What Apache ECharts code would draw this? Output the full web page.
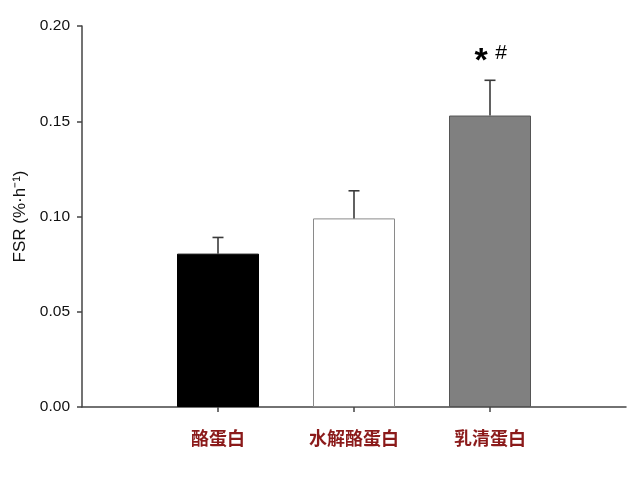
<!DOCTYPE html>
<html lang="zh">
<head>
  <meta charset="UTF-8">
  <title>FSR</title>
  <script src="https://cdn.jsdelivr.net/npm/echarts@6/dist/echarts.min.js"></script>
  <style>
    html, body { margin: 0; padding: 0; background: #fff; }
    #chart { width: 640px; height: 484px; }
  </style>
</head>
<body>
<div id="chart"></div>
<script>
  // x slots: empty slot at each end so the groups sit at 1..3 of 0..4
  var categories = ['', '酪蛋白', '水解酪蛋白', '乳清蛋白', ''];
  var groupIndex = [1, 2, 3];
  var fsrMean = [0.0805, 0.099, 0.153];
  var fsrUpper = [0.089, 0.1135, 0.1715]; // top of error bar
  var marks = ['', '', '*#'];
  var barColors = ['#000000', '#ffffff', '#808080'];
  var barBorders = ['#000000', '#8a8a8a', '#555555'];
  var yTicks = [0, 0.05, 0.10, 0.15, 0.20];

  var barData = groupIndex.map(function (g, i) {
    return {
      value: [g, fsrMean[i]],
      itemStyle: { color: barColors[i], borderColor: barBorders[i], borderWidth: 1 }
    };
  });
  var errData = groupIndex.map(function (g, i) {
    return [g, fsrMean[i], fsrUpper[i], i];
  });

  function renderErr(params, api) {
    var base = api.coord([api.value(0), api.value(1)]);
    var top = api.coord([api.value(0), api.value(2)]);
    var k = api.value(3);
    var line = { stroke: '#3a3a3a', lineWidth: 1.6 };
    var kids = [
      { type: 'line', shape: { x1: base[0], y1: base[1], x2: top[0], y2: top[1] }, style: line },
      { type: 'line', shape: { x1: top[0] - 5.5, y1: top[1], x2: top[0] + 5.5, y2: top[1] }, style: line }
    ];
    if (marks[k]) {
      kids.push({
        type: 'text',
        style: { text: marks[k].charAt(0), x: top[0] - 9, y: top[1] - 2, align: 'center', verticalAlign: 'bottom',
                 font: 'bold 34px "Liberation Sans", Arial, sans-serif', fill: '#000' }
      });
      kids.push({
        type: 'text',
        style: { text: marks[k].charAt(1), x: top[0] + 11, y: top[1] - 17, align: 'center', verticalAlign: 'bottom',
                 font: '21px "Liberation Sans", Arial, sans-serif', fill: '#000' }
      });
    }
    return { type: 'group', children: kids };
  }

  var myChart = echarts.init(document.getElementById('chart'));
  var option = {
    backgroundColor: '#ffffff',
    animation: false,
    grid: { left: 82, right: 14, top: 26, bottom: 77, containLabel: false, outerBoundsMode: 'none' },
    xAxis: {
      type: 'category',
      data: categories,
      boundaryGap: false,
      axisLine: { lineStyle: { color: '#444', width: 1.5 } },
      axisTick: {
        length: 5,
        interval: function (i) { return i > 0 && i < categories.length - 1; },
        lineStyle: { color: '#444', width: 1.5 }
      },
      axisLabel: {
        interval: 0,
        margin: 22,
        color: '#8b1a1a',
        fontSize: 18,
        fontWeight: 'bold',
        fontFamily: '"Noto Sans CJK SC", sans-serif'
      },
      splitLine: { show: false }
    },
    yAxis: {
      type: 'value',
      min: yTicks[0],
      max: yTicks[yTicks.length - 1],
      interval: 0.05,
      name: 'FSR (%·h⁻¹)',
      nameLocation: 'middle',
      nameRotate: 90,
      nameGap: 53,
      nameMoveOverlap: false,
      nameTextStyle: { fontSize: 17, color: '#111', fontFamily: '"Liberation Sans", Arial, sans-serif' },
      axisLine: { show: true, lineStyle: { color: '#444', width: 1.5 } },
      axisTick: { show: true, length: 5, lineStyle: { color: '#444', width: 1.5 } },
      axisLabel: {
        margin: 12,
        fontSize: 15.5,
        color: '#111',
        fontFamily: '"Liberation Sans", Arial, sans-serif',
        formatter: function (v) { return v.toFixed(2); }
      },
      splitLine: { show: false }
    },
    series: [
      {
        type: 'bar',
        barWidth: 82,
        data: barData
      },
      {
        type: 'custom',
        z: 5,
        renderItem: renderErr,
        data: errData
      }
    ]
  };
  myChart.setOption(option);
</script>
</body>
</html>
